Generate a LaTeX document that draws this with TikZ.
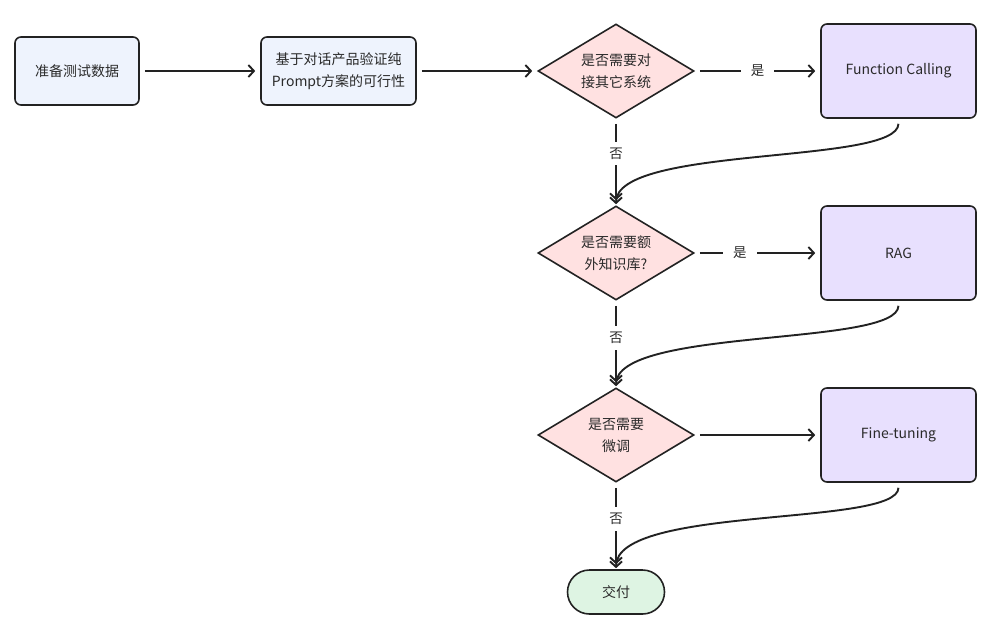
\documentclass[tikz,border=0pt]{standalone}
\usepackage{fontspec}
\setmainfont{Noto Sans CJK SC}
\usetikzlibrary{shapes.geometric,arrows.meta}
\definecolor{ink}{HTML}{222222}
\definecolor{txt}{HTML}{2A2A2A}
\definecolor{bluefill}{HTML}{EEF3FD}
\definecolor{pinkfill}{HTML}{FFE1E1}
\definecolor{purplefill}{HTML}{E8E0FE}
\definecolor{greenfill}{HTML}{DEF4E3}
\tikzset{
  base/.style={draw=ink, line width=1.6pt, text=txt, font=\fontsize{14}{22}\selectfont, align=center, inner sep=0pt},
  startbox/.style={base, fill=bluefill, rounded corners=6pt, minimum width=124pt, minimum height=68pt},
  procbox/.style={base, fill=purplefill, rounded corners=6pt, minimum width=155pt, minimum height=94pt},
  decision/.style={base, fill=pinkfill, shape=diamond, aspect=1.66, minimum width=156pt, minimum height=94pt},
  terminal/.style={base, fill=greenfill, rounded corners=22pt, minimum width=97pt, minimum height=44pt},
  conn/.style={draw=ink, line width=1.9pt, -{Straight Barb[length=5.5pt,width=12pt,line width=1.9pt]}, shorten <=5pt, shorten >=5pt},
  lbl/.style={fill=white, text=txt, font=\fontsize{13.5}{15}\selectfont, inner xsep=10pt, inner ysep=6pt}
}
\begin{document}
\begin{tikzpicture}[x=1pt,y=-1pt]
\useasboundingbox (0,0) rectangle (1005,635);
\fill[white] (0,0) rectangle (1005,635);

\node[startbox] (prep) at (77,71) {准备测试数据};
\node[startbox, minimum width=155pt] (verify) at (338.5,71) {基于对话产品验证纯\\Prompt方案的可行性};
\node[decision] (d1) at (616,71) {是否需要对\\接其它系统};
\node[procbox] (fc) at (898.5,71) {Function Calling};
\node[decision] (d2) at (616,253) {是否需要额\\外知识库?};
\node[procbox] (rag) at (898.5,253) {RAG};
\node[decision] (d3) at (616,435) {是否需要\\微调};
\node[procbox] (ft) at (898.5,435) {Fine-tuning};
\node[terminal] (deliver) at (616,592) {交付};

\draw[conn] (prep) -- (verify);
\draw[conn] (verify) -- (d1);
\draw[conn] (d1) -- node[lbl, pos=0.5] {是} (fc);
\draw[conn] (d1) -- node[lbl, inner xsep=4pt, pos=0.4] {否} (d2);
\draw[conn] (d2) -- node[lbl, pos=0.36] {是} (rag);
\draw[conn] (d2) -- node[lbl, inner xsep=4pt, pos=0.43] {否} (d3);
\draw[conn] (d3) -- (ft);
\draw[conn] (d3) -- node[lbl, inner xsep=4pt, pos=0.42] {否} (deliver);

\draw[conn, shorten >=1pt] (fc.south) .. controls (898,165) and (616,145) .. (d2.north);
\draw[conn, shorten >=1pt] (rag.south) .. controls (898,347) and (616,327) .. (d3.north);
\draw[conn, shorten >=1pt] (ft.south) .. controls (898,527) and (616,505) .. (deliver.north);
\end{tikzpicture}
\end{document}
